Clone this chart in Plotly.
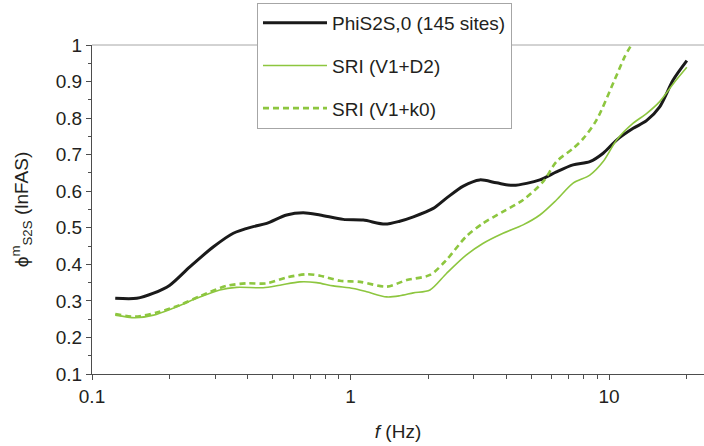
import numpy as np
import plotly.graph_objects as go

# PhiS2S,0 from 145 sites
f_phi = [0.123, 0.149, 0.173, 0.200, 0.239, 0.295, 0.352, 0.420, 0.474, 0.566,
         0.656, 0.762, 0.937, 1.12, 1.36, 1.55, 1.75, 2.09, 2.35, 2.73,
         3.16, 3.67, 4.26, 5.40, 6.26, 7.26, 8.43, 9.49, 10.7, 12.4,
         13.96, 15.7, 17.7, 20.0]
phi_s2s = [0.307, 0.307, 0.321, 0.343, 0.393, 0.448, 0.485, 0.503, 0.512, 0.535,
           0.541, 0.535, 0.523, 0.521, 0.510, 0.518, 0.530, 0.553, 0.581, 0.614,
           0.631, 0.623, 0.616, 0.631, 0.653, 0.672, 0.681, 0.704, 0.740, 0.772,
           0.793, 0.831, 0.904, 0.957]

# SRI, V1 + D2 model
f_d2 = [0.123, 0.147, 0.173, 0.206, 0.254, 0.312, 0.362, 0.459, 0.533, 0.637,
        0.739, 0.857, 1.025, 1.155, 1.38, 1.55, 1.75, 2.03, 2.35, 2.80,
        3.25, 3.89, 4.65, 5.40, 6.26, 7.26, 8.43, 9.49, 10.7, 12.4,
        14.0, 15.7, 17.9, 20.0]
sri_d2 = [0.261, 0.254, 0.261, 0.280, 0.307, 0.330, 0.337, 0.336, 0.343, 0.352,
          0.350, 0.341, 0.334, 0.325, 0.311, 0.314, 0.322, 0.330, 0.375, 0.425,
          0.457, 0.485, 0.508, 0.535, 0.576, 0.622, 0.644, 0.681, 0.740, 0.786,
          0.813, 0.845, 0.898, 0.939]

# SRI, V1 + k0 model
f_k0 = [0.123, 0.147, 0.178, 0.219, 0.262, 0.331, 0.396, 0.474, 0.566, 0.676,
        0.762, 0.910, 1.09, 1.38, 1.65, 2.03, 2.35, 2.80, 3.25, 3.89,
        4.65, 5.56, 6.26, 7.26, 7.97, 8.95, 10.5, 11.5, 12.2]
sri_k0 = [0.264, 0.257, 0.268, 0.289, 0.313, 0.341, 0.348, 0.348, 0.364, 0.373,
          0.369, 0.355, 0.352, 0.339, 0.357, 0.371, 0.412, 0.476, 0.512, 0.544,
          0.576, 0.626, 0.681, 0.717, 0.745, 0.795, 0.904, 0.968, 1.0]

x_ticks = [0.1, 1, 10]
x_ticktext = ["0.1", "1", "10"]
x_minor = [0.2, 0.3, 0.4, 0.5, 0.6, 0.7, 0.8, 0.9, 2, 3, 4, 5, 6, 7, 8, 9, 20]
y_ticks = [0.1, 0.2, 0.3, 0.4, 0.5, 0.6, 0.7, 0.8, 0.9, 1.0]
y_ticktext = ["0.1", "0.2", "0.3", "0.4", "0.5", "0.6", "0.7", "0.8", "0.9", "1"]

FONT = "Liberation Sans, Arial, sans-serif"
TXT = "#231f20"
AX = "#4d4d4d"
GREEN = "#8dc63f"

fig = go.Figure()
fig.add_trace(go.Scatter(
    x=f_phi, y=phi_s2s, mode="lines", name="PhiS2S,0 (145 sites)",
    line=dict(color="#1a1a1a", width=3, shape="spline", smoothing=0.8),
    legendgroup="a"))
fig.add_trace(go.Scatter(
    x=f_d2, y=sri_d2, mode="lines", name="SRI (V1+D2)",
    line=dict(color=GREEN, width=1.6, shape="spline", smoothing=0.8),
    legendgroup="b"))
fig.add_trace(go.Scatter(
    x=f_k0, y=sri_k0, mode="lines", name="SRI (V1+k0)",
    line=dict(color=GREEN, width=2.6, dash="6px,4px", shape="spline", smoothing=0.8),
    legendgroup="c"))

# light frame line along the top of the plotting area
fig.add_shape(type="line", xref="paper", yref="paper", x0=0, x1=1, y0=1, y1=1,
              line=dict(color="#a6a6a6", width=1), layer="below")

fig.update_layout(
    width=704, height=446, autosize=False,
    margin=dict(l=92, r=0, t=45, b=72),
    paper_bgcolor="white", plot_bgcolor="white",
    font=dict(family=FONT, size=19, color=TXT),
    showlegend=True,
    legend=dict(
        x=0.2696, y=1.128, xanchor="left", yanchor="top",
        bgcolor="white", bordercolor="#a6a6a6", borderwidth=1,
        font=dict(family=FONT, size=19, color=TXT),
        traceorder="grouped", tracegroupgap=15, itemwidth=64,
    ),
    xaxis=dict(
        type="log", range=[-1, np.log10(23.3)],
        tickmode="array", tickvals=x_ticks, ticktext=x_ticktext,
        ticks="outside", ticklen=5, tickcolor=AX, tickwidth=1,
        minor=dict(tickmode="array", tickvals=x_minor, ticks="outside",
                   ticklen=4, tickcolor=AX, showgrid=False),
        showline=True, linecolor=AX, linewidth=1,
        showgrid=False, zeroline=False,
        tickfont=dict(size=19, color=TXT),
        title=dict(text="<i>f</i> (Hz)", font=dict(size=19, color=TXT), standoff=18),
    ),
    yaxis=dict(
        range=[0.1, 1.0],
        tickmode="array", tickvals=y_ticks, ticktext=y_ticktext,
        ticks="outside", ticklen=5, tickcolor=AX, tickwidth=1,
        minor=dict(dtick=0.05, tick0=0.1, ticks="outside", ticklen=3,
                   tickcolor=AX, showgrid=False),
        showline=True, linecolor=AX, linewidth=1,
        showgrid=False, zeroline=False,
        tickfont=dict(size=19, color=TXT),
        title=dict(text="\u03d5<sup>m</sup><sub>S2S</sub> (lnFAS)",
                   font=dict(size=19, color=TXT), standoff=22),
    ),
)

fig.write_html("out.html")
